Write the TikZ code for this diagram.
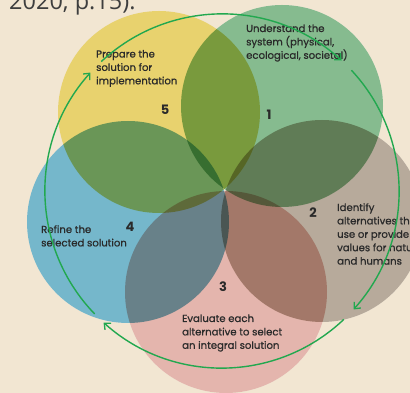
\documentclass[tikz,border=0pt]{standalone}
\usepackage{fontspec}
\setmainfont{Poppins}
\newfontfamily\stepfont{Poppins}[FakeBold=0.8]
\newfontfamily\citefont{Open Sans}
\usetikzlibrary{arrows.meta}

\definecolor{paper}{HTML}{F2E6D2}
\definecolor{cyellow}{HTML}{E8D26E}
\definecolor{cgreen}{HTML}{86BB8F}
\definecolor{cblue}{HTML}{75B7CB}
\definecolor{cpink}{HTML}{E4B5AD}
\definecolor{ctaupe}{HTML}{B7AA9B}
\definecolor{ringgreen}{HTML}{22A84F}
\definecolor{ink}{HTML}{2A2A2A}
\definecolor{citegray}{HTML}{3E3E3E}

\tikzset{
  petal/.style={fill=#1, blend mode=multiply},
  underlay/.style={fill=white},
  % anchored at the baseline of the last line
  steptext/.style={anchor=base west, inner sep=0pt, align=left, text=ink,
    font=\stepfont\fontsize{10.1}{13.4}\selectfont},
  stepnum/.style={inner sep=0pt, text=ink, font=\fontsize{13}{13}\selectfont\bfseries},
  cycle/.style={draw=ringgreen, line width=1.4pt,
    -{Straight Barb[length=5pt,width=9pt,line width=1.3pt]}},
}

\begin{document}
\begin{tikzpicture}[x=1pt,y=1pt]
  \fill[paper] (0,0) rectangle (410,393);
  \useasboundingbox (0,0) rectangle (410,393);
  \clip (0,0) rectangle (410,393);

  % tail of the citation line above the figure
  \node[anchor=base west, inner sep=0pt, text=citegray,
        font=\citefont\fontsize{23.5}{24}\selectfont] (cite) at (9,383.5) {2020, p.15).};

  % petal centres
  \coordinate (c5) at (159,281);
  \coordinate (c1) at (282,287);
  \coordinate (c4) at (128,171);
  \coordinate (c3) at (226,101);
  \coordinate (c2) at (322,172);
  \coordinate (ring) at (222,202);

  % five overlapping petals, blended so the overlaps darken
  \begin{scope}
    \foreach \c in {c1,c2,c3,c4,c5} \fill[underlay] (\c) circle[radius=101];
    \fill[petal=cyellow] (c5) circle[radius=101];
    \fill[petal=cgreen]  (c1) circle[radius=101];
    \fill[petal=ctaupe]  (c2) circle[radius=101];
    \fill[petal=cpink]   (c3) circle[radius=101];
    \fill[petal=cblue]   (c4) circle[radius=101];
  \end{scope}

  % step labels
  \node[steptext] (t5) at (96,308.7) {Prepare the\\solution for\\implementation};
  \node[steptext] (t1) at (246,334.2) {Understand the\\system (physical,\\ecological, societal)};
  \node[steptext] (t2) at (337,128.4) {Identify\\alternatives that\\use or provide\\values for nature\\and humans};
  \node[steptext] (t4) at (41,146.6) {Refine the\\selected solution};
  \node[steptext] (t3) at (182,44.2) {Evaluate each\\alternative to select\\an integral solution};

  \node[stepnum] (n5) at (165,283) {5};
  \node[stepnum] (n1) at (269,278) {1};
  \node[stepnum] (n2) at (313,180) {2};
  \node[stepnum] (n4) at (130,166) {4};
  \node[stepnum] (n3) at (223,106) {3};

  % the cycle of arrows around the petals
  \draw[cycle] ([shift={(133:177)}]ring) arc[start angle=133, end angle=47.5, radius=177];
  \draw[cycle] ([shift={(43:177)}]ring) arc[start angle=43, end angle=-42, radius=177];
  \draw[cycle] ([shift={(-46.5:177)}]ring) arc[start angle=-46.5, end angle=-132, radius=177];
  \draw[cycle] ([shift={(-136:177)}]ring) arc[start angle=-136, end angle=-222, radius=177];
\end{tikzpicture}
\end{document}
